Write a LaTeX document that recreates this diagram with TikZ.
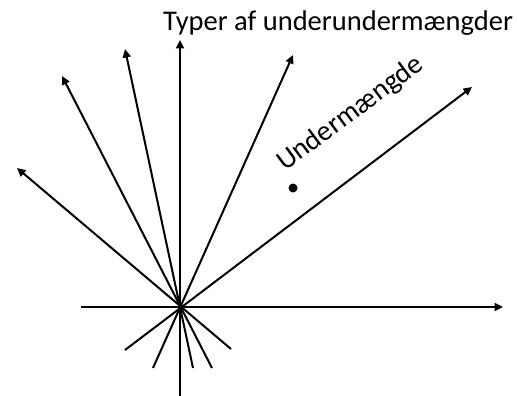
\documentclass[tikz,border=0pt]{standalone}
\usepackage{fontspec}
\setmainfont{Carlito}
\usetikzlibrary{arrows.meta}
\begin{document}
\begin{tikzpicture}[x=1pt,y=-1pt,
  ray/.style={line width=2pt,-{Triangle[length=8.5pt,width=8pt]}},
  lbl/.style={inner sep=0pt,font=\fontsize{28.5}{34}\selectfont}]
\useasboundingbox (0,0) rectangle (517,396);
\coordinate (O) at (180,307);
\coordinate (xl) at (81,307);
\coordinate (xr) at (503,307);
\coordinate (yb) at (180,396);
\coordinate (yt) at (180,40);
\coordinate (a1) at (17,168);
\coordinate (b1) at (231,349);
\coordinate (a2) at (62,76);
\coordinate (b2) at (212,368);
\coordinate (a3) at (125,49);
\coordinate (b3) at (193,368);
\coordinate (a4) at (293,55);
\coordinate (b4) at (153,368);
\coordinate (a5) at (472,87);
\coordinate (b5) at (125,350);
\draw[ray] (xl) -- (xr);
\draw[ray] (yb) -- (yt);
\draw[ray] (b1) -- (a1);
\draw[ray] (b2) -- (a2);
\draw[ray] (b3) -- (a3);
\draw[ray] (b4) -- (a4);
\draw[ray] (b5) -- (a5);
\fill (293,188) circle (4.5pt);
\node[lbl,anchor=base west] (title) at (163,31) {Typer af underundermængder};
\node[lbl,anchor=base west,rotate=36.7] (sub) at (285,172) {Undermængde};
\end{tikzpicture}
\end{document}
